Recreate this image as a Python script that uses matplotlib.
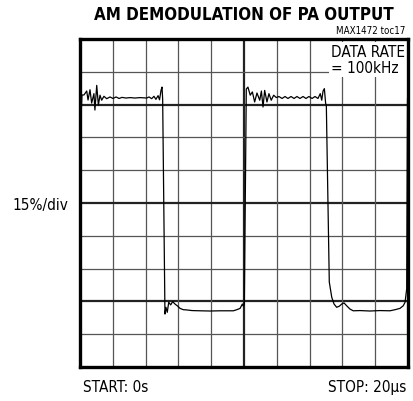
import numpy as np
import matplotlib.pyplot as plt
from matplotlib import font_manager

# scope trace: time in us, level in %
t_us = [0.03, 0.12, 0.24, 0.41, 0.49, 0.61, 0.71, 0.85, 0.91, 1.02, 1.12, 1.22, 1.32,
        1.46, 1.63, 1.83, 2.01, 2.20, 2.38, 2.56, 2.80, 3.05, 3.35, 3.66, 4.07, 4.21,
        4.37, 4.51, 4.63, 4.76, 4.85, 4.94, 5.00, 5.04, 5.18, 5.24, 5.32, 5.41, 5.53,
        5.65, 5.79, 5.93, 6.10, 6.30, 6.51, 6.83, 7.32, 7.93, 8.54, 9.35, 9.56, 9.76,
        9.90, 9.96, 10.02, 10.14, 10.24, 10.38, 10.51, 10.65, 10.79, 10.96, 11.06, 11.16,
        11.26, 11.40, 11.52, 11.66, 11.81, 11.97, 12.13, 12.32, 12.50, 12.68, 12.87, 13.05,
        13.23, 13.41, 13.60, 13.78, 13.96, 14.15, 14.33, 14.51, 14.65, 14.74, 14.82, 14.90,
        14.98, 15.02, 15.20, 15.35, 15.49, 15.65, 15.81, 15.96, 16.10, 16.26, 16.46, 16.66,
        17.07, 17.68, 18.29, 18.90, 19.21, 19.51, 19.71, 19.82, 19.92, 19.97]
level = [108.8, 124.4, 124.4, 126.2, 122.1, 126.8, 120.7, 125.0, 117.5, 128.8, 119.8, 124.3, 122.0,
         123.8, 122.7, 123.5, 122.8, 123.5, 122.8, 123.3, 123.0, 123.2, 123.0, 123.2, 123.0, 123.5,
         122.7, 123.8, 122.4, 124.1, 122.2, 126.5, 128.0, 122.6, 24.2, 27.3, 25.0, 29.6, 28.4,
         29.9, 28.8, 28.0, 26.8, 26.2, 26.1, 25.8, 25.7, 25.6, 25.7, 25.7, 26.2, 26.8,
         28.8, 27.8, 28.8, 127.1, 128.0, 124.3, 125.8, 121.2, 125.3, 122.0, 126.2, 118.9,
         126.5, 121.2, 125.0, 122.0, 124.3, 123.2, 123.7, 122.8, 123.7, 122.8, 123.7, 122.8,
         123.7, 122.8, 123.7, 122.8, 123.7, 122.8, 123.7, 122.8, 125.0, 122.0, 126.2, 127.3,
         120.4, 119.8, 38.9, 31.9, 28.8, 27.3, 27.8, 28.8, 29.3, 28.0, 26.5, 25.7,
         25.8, 25.6, 25.8, 25.7, 26.2, 26.8, 28.0, 29.6, 35.7, 122.6]

x_div = 2.0    # us per division
y_div = 15.0   # % per division
n_div = 10

# use a condensed face if one is around, otherwise shrink the text
cond = font_manager.findfont(font_manager.FontProperties(family='DejaVu Sans', stretch='condensed'))
has_cond = 'Condensed' in cond
fam = 'DejaVu Sans'
st = 'condensed'
k = 1.0 if has_cond else 0.85

fig = plt.figure(figsize=(4.13, 4.02), dpi=100)
ax = fig.add_axes([0.1937, 0.0846, 0.7942, 0.8159])
ax.set_xlim(0, n_div * x_div)
ax.set_ylim(0, n_div * y_div)

# graticule
for i in range(1, n_div):
    thick = (i == 5)
    ax.axvline(i * x_div, color='#555555' if not thick else '#222222',
               lw=0.9 if not thick else 1.6, zorder=1)
    thick = i in (2, 5, 8)
    ax.axhline(i * y_div, color='#555555' if not thick else '#222222',
               lw=0.9 if not thick else 1.6, zorder=1)

ax.plot(t_us, level, color='black', lw=0.9, zorder=3)

ax.set_xticks([])
ax.set_yticks([])
for s in ax.spines.values():
    s.set_linewidth(2.4)
    s.set_zorder(5)

ax.text(0.99, 0.985, 'DATA RATE\n= 100kHz', transform=ax.transAxes, ha='right', va='top',
        fontsize=11 * k, family=fam, stretch=st, linespacing=1.05, zorder=4,
        multialignment='left', bbox=dict(facecolor='white', edgecolor='none', pad=1.5))

fig.text(0.591, 0.962, 'AM DEMODULATION OF PA OUTPUT', ha='center', va='center',
         fontsize=12.2 * k, fontweight='heavy', family=fam, stretch=st)
fig.text(0.982, 0.922, 'MAX1472 toc17', ha='right', va='center', fontsize=7 * k,
         family=fam, stretch=st)
fig.text(0.031, 0.49, '15%/div', ha='left', va='center', fontsize=11 * k, family=fam, stretch=st)
fig.text(0.2, 0.037, 'START: 0s', ha='left', va='center', fontsize=11 * k, family=fam, stretch=st)
fig.text(0.985, 0.037, 'STOP: 20\u00b5s', ha='right', va='center', fontsize=11 * k,
         family=fam, stretch=st)

fig.savefig('out.png', dpi=100)
